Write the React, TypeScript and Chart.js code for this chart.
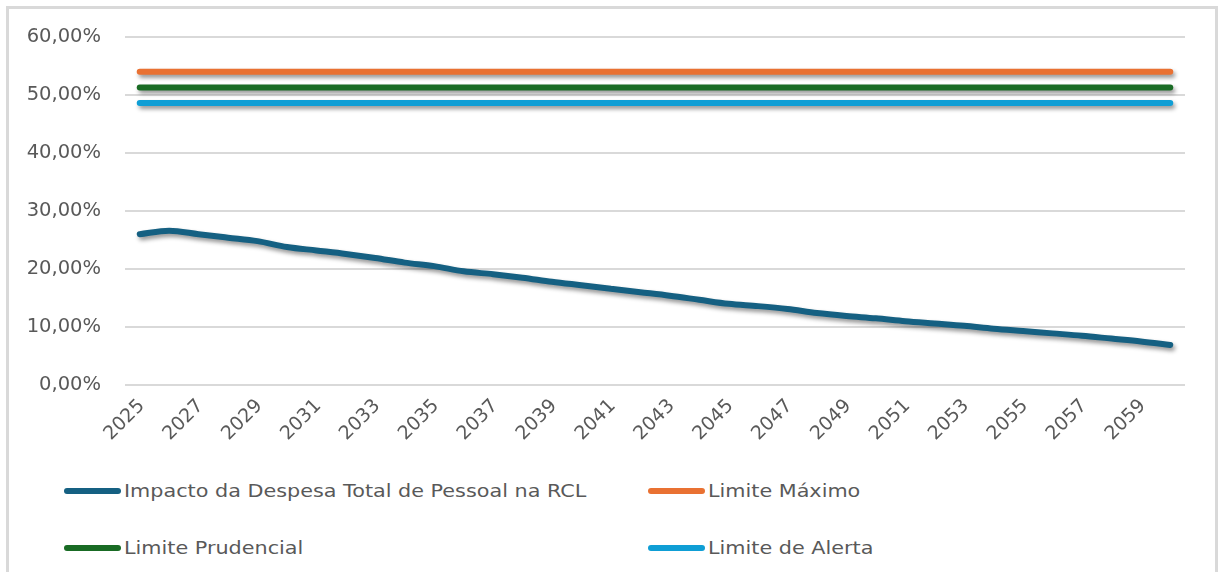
import React, { useEffect, useRef } from "react";
import { Chart, registerables } from "chart.js";

Chart.register(...registerables);

const years = [
  "2025", "2026", "2027", "2028", "2029", "2030", "2031", "2032", "2033", "2034",
  "2035", "2036", "2037", "2038", "2039", "2040", "2041", "2042", "2043", "2044",
  "2045", "2046", "2047", "2048", "2049", "2050", "2051", "2052", "2053", "2054",
  "2055", "2056", "2057", "2058", "2059", "2060",
];

const impacto = [
  26.0, 26.6, 26.0, 25.4, 24.8, 23.8, 23.2, 22.6, 21.9, 21.1,
  20.5, 19.6, 19.1, 18.5, 17.8, 17.2, 16.6, 16.0, 15.4, 14.7,
  14.0, 13.6, 13.1, 12.4, 11.9, 11.5, 11.0, 10.6, 10.2, 9.7,
  9.3, 8.9, 8.5, 8.0, 7.5, 6.9,
];

const limiteMaximo = [
  54, 54, 54, 54, 54, 54, 54, 54, 54, 54, 54, 54, 54, 54, 54, 54, 54, 54,
  54, 54, 54, 54, 54, 54, 54, 54, 54, 54, 54, 54, 54, 54, 54, 54, 54, 54,
];

const limitePrudencial = [
  51.3, 51.3, 51.3, 51.3, 51.3, 51.3, 51.3, 51.3, 51.3, 51.3, 51.3, 51.3,
  51.3, 51.3, 51.3, 51.3, 51.3, 51.3, 51.3, 51.3, 51.3, 51.3, 51.3, 51.3,
  51.3, 51.3, 51.3, 51.3, 51.3, 51.3, 51.3, 51.3, 51.3, 51.3, 51.3, 51.3,
];

const limiteAlerta = [
  48.6, 48.6, 48.6, 48.6, 48.6, 48.6, 48.6, 48.6, 48.6, 48.6, 48.6, 48.6,
  48.6, 48.6, 48.6, 48.6, 48.6, 48.6, 48.6, 48.6, 48.6, 48.6, 48.6, 48.6,
  48.6, 48.6, 48.6, 48.6, 48.6, 48.6, 48.6, 48.6, 48.6, 48.6, 48.6, 48.6,
];

const yMin = 0;
const yMax = 60;
const yStep = 10;

const seriesNames = [
  "Impacto da Despesa Total de Pessoal na RCL",
  "Limite Máximo",
  "Limite Prudencial",
  "Limite de Alerta",
];
const seriesColors = ["#156082", "#E97132", "#196B24", "#0F9ED5"];

const TEXT = "#595959";
const FONT = "'DejaVu Sans', sans-serif";

const shadowPlugin = {
  id: "lineShadow",
  beforeDatasetDraw(chart: any) {
    const ctx = chart.ctx;
    ctx.save();
    ctx.shadowColor = "rgba(0,0,0,0.42)";
    ctx.shadowBlur = 4;
    ctx.shadowOffsetX = 2;
    ctx.shadowOffsetY = 3;
  },
  afterDatasetDraw(chart: any) {
    chart.ctx.restore();
  },
};

function fmtPct(v: number) {
  return v.toFixed(2).replace(".", ",") + "%";
}

export default function App() {
  const canvasRef = useRef<HTMLCanvasElement | null>(null);

  useEffect(() => {
    const canvas = canvasRef.current;
    if (!canvas) return;
    const seriesData = [impacto, limiteMaximo, limitePrudencial, limiteAlerta];
    const chart = new Chart(canvas, {
      type: "line",
      data: {
        labels: years,
        datasets: seriesNames.map((name, i) => ({
          label: name,
          data: seriesData[i],
          borderColor: seriesColors[i],
          backgroundColor: seriesColors[i],
          borderWidth: 6,
          borderCapStyle: "round",
          borderJoinStyle: "round",
          pointRadius: 0,
          pointHoverRadius: 0,
          fill: false,
          cubicInterpolationMode: i === 0 ? "monotone" : "default",
          tension: 0,
        })),
      },
      options: {
        responsive: false,
        animation: false,
        devicePixelRatio: 1,
        layout: { padding: { left: 0, right: 33, top: 37, bottom: 0 } },
        plugins: {
          legend: { display: false },
          tooltip: { enabled: false },
          title: { display: false },
        },
        scales: {
          x: {
            offset: true,
            grid: { display: false, drawTicks: false },
            border: { display: false },
            ticks: {
              autoSkip: false,
              maxRotation: 45,
              minRotation: 45,
              color: TEXT,
              font: { family: FONT, size: 19 },
              padding: 10,
              labelOffset: 2,
              callback: (_v: any, i: number) => (i % 2 === 0 ? years[i] : ""),
            },
            afterFit: (s: any) => {
              s.height = 70;
            },
          },
          y: {
            min: yMin,
            max: yMax,
            ticks: {
              stepSize: yStep,
              color: TEXT,
              font: { family: FONT, size: 19.5 },
              padding: 24,
              callback: (v: any) => fmtPct(Number(v)),
            },
            grid: { color: "#d9d9d9", lineWidth: 2, drawTicks: false },
            border: { display: false },
            afterFit: (s: any) => {
              s.width = 125;
            },
          },
        },
      },
      plugins: [shadowPlugin],
    });
    return () => chart.destroy();
  }, []);

  const legendItems = [
    { i: 0, left: 64, top: 491 },
    { i: 1, left: 648, top: 491 },
    { i: 2, left: 64, top: 548 },
    { i: 3, left: 648, top: 548 },
  ];

  return (
    <div
      style={{
        position: "fixed",
        left: 0,
        top: 0,
        width: 1218,
        height: 572,
        overflow: "hidden",
        background: "#ffffff",
      }}
    >
      <div
        style={{
          position: "absolute",
          left: 6,
          top: 6,
          width: 1212,
          height: 620,
          boxSizing: "border-box",
          border: "3px solid #d9d9d9",
        }}
      />
      <canvas
        ref={canvasRef}
        width={1218}
        height={455}
        style={{ position: "absolute", left: 0, top: 0, width: 1218, height: 455, display: "block" }}
      />
      {legendItems.map(({ i, left, top }) => (
        <div
          key={i}
          style={{
            position: "absolute",
            left,
            top: top - 12,
            height: 24,
            display: "flex",
            alignItems: "center",
            whiteSpace: "nowrap",
          }}
        >
          <div
            style={{
              width: 57,
              height: 6,
              borderRadius: 3,
              background: seriesColors[i],
              marginRight: 3,
              flex: "none",
            }}
          />
          <span
            style={{
              fontFamily: FONT,
              fontSize: 17,
              color: TEXT,
              display: "inline-block",
              transform: "scaleX(1.22)",
              transformOrigin: "left center",
              lineHeight: "24px",
            }}
          >
            {seriesNames[i]}
          </span>
        </div>
      ))}
    </div>
  );
}
